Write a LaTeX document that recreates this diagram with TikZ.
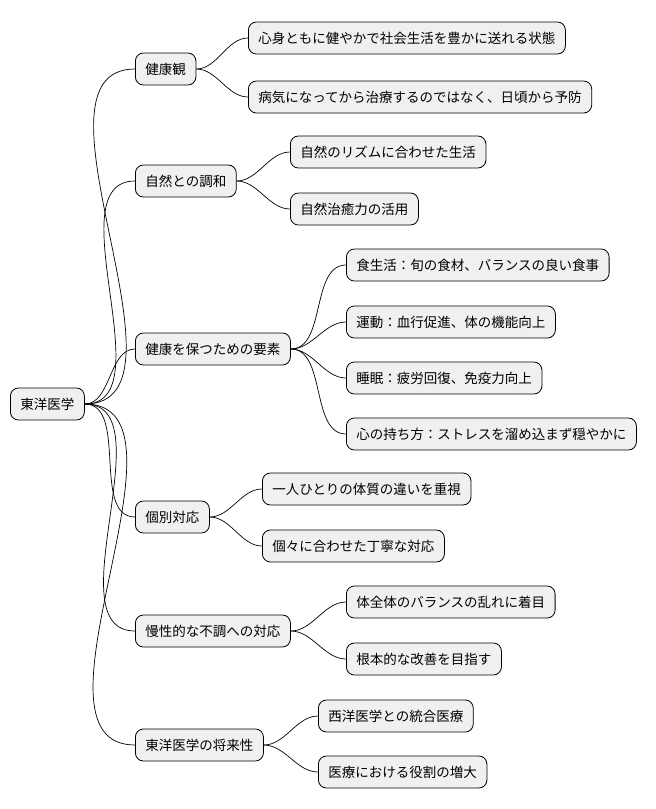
\documentclass[tikz,border=0pt]{standalone}
\usepackage{fontspec}
\setmainfont{Noto Sans CJK JP}
\begin{document}
\begin{tikzpicture}[x=1pt,y=-1pt,
  box/.style={draw=black,line width=0.8pt,fill=gray!12,rounded corners=8pt,minimum height=32pt,inner xsep=10pt,inner ysep=0pt,font=\fontsize{13.5}{16}\selectfont,anchor=west},
  link/.style={line width=0.7pt,out=0,in=180,looseness=0.9}]
\useasboundingbox (0,0) rectangle (656,809);
\node[box] (r) at (10,404) {東洋医学};
\node[box] (a) at (135,69) {健康観};
\node[box] (b) at (135,181) {自然との調和};
\node[box] (c) at (135,349) {健康を保つための要素};
\node[box] (d) at (135,517) {個別対応};
\node[box] (e) at (135,631) {慢性的な不調への対応};
\node[box] (f) at (135,745) {東洋医学の将来性};
\node[box] (a1) at (248,38) {心身ともに健やかで社会生活を豊かに送れる状態};
\node[box] (a2) at (248,97) {病気になってから治療するのではなく、日頃から予防};
\node[box] (b1) at (290,152) {自然のリズムに合わせた生活};
\node[box] (b2) at (290,209) {自然治癒力の活用};
\node[box] (c1) at (346,265) {食生活：旬の食材、バランスの良い食事};
\node[box] (c2) at (346,322) {運動：血行促進、体の機能向上};
\node[box] (c3) at (346,378) {睡眠：疲労回復、免疫力向上};
\node[box] (c4) at (346,434) {心の持ち方：ストレスを溜め込まず穏やかに};
\node[box] (d1) at (262,489) {一人ひとりの体質の違いを重視};
\node[box] (d2) at (262,546) {個々に合わせた丁寧な対応};
\node[box] (e1) at (346,602) {体全体のバランスの乱れに着目};
\node[box] (e2) at (346,659) {根本的な改善を目指す};
\node[box] (f1) at (318,716) {西洋医学との統合医療};
\node[box] (f2) at (318,772) {医療における役割の増大};
\foreach \c in {a,b,c,d,e,f} \draw[link] (r.east) to (\c.west);
\foreach \p/\c in {a/a1,a/a2,b/b1,b/b2,c/c1,c/c2,c/c3,c/c4,d/d1,d/d2,e/e1,e/e2,f/f1,f/f2} \draw[link] (\p.east) to (\c.west);
\end{tikzpicture}
\end{document}
